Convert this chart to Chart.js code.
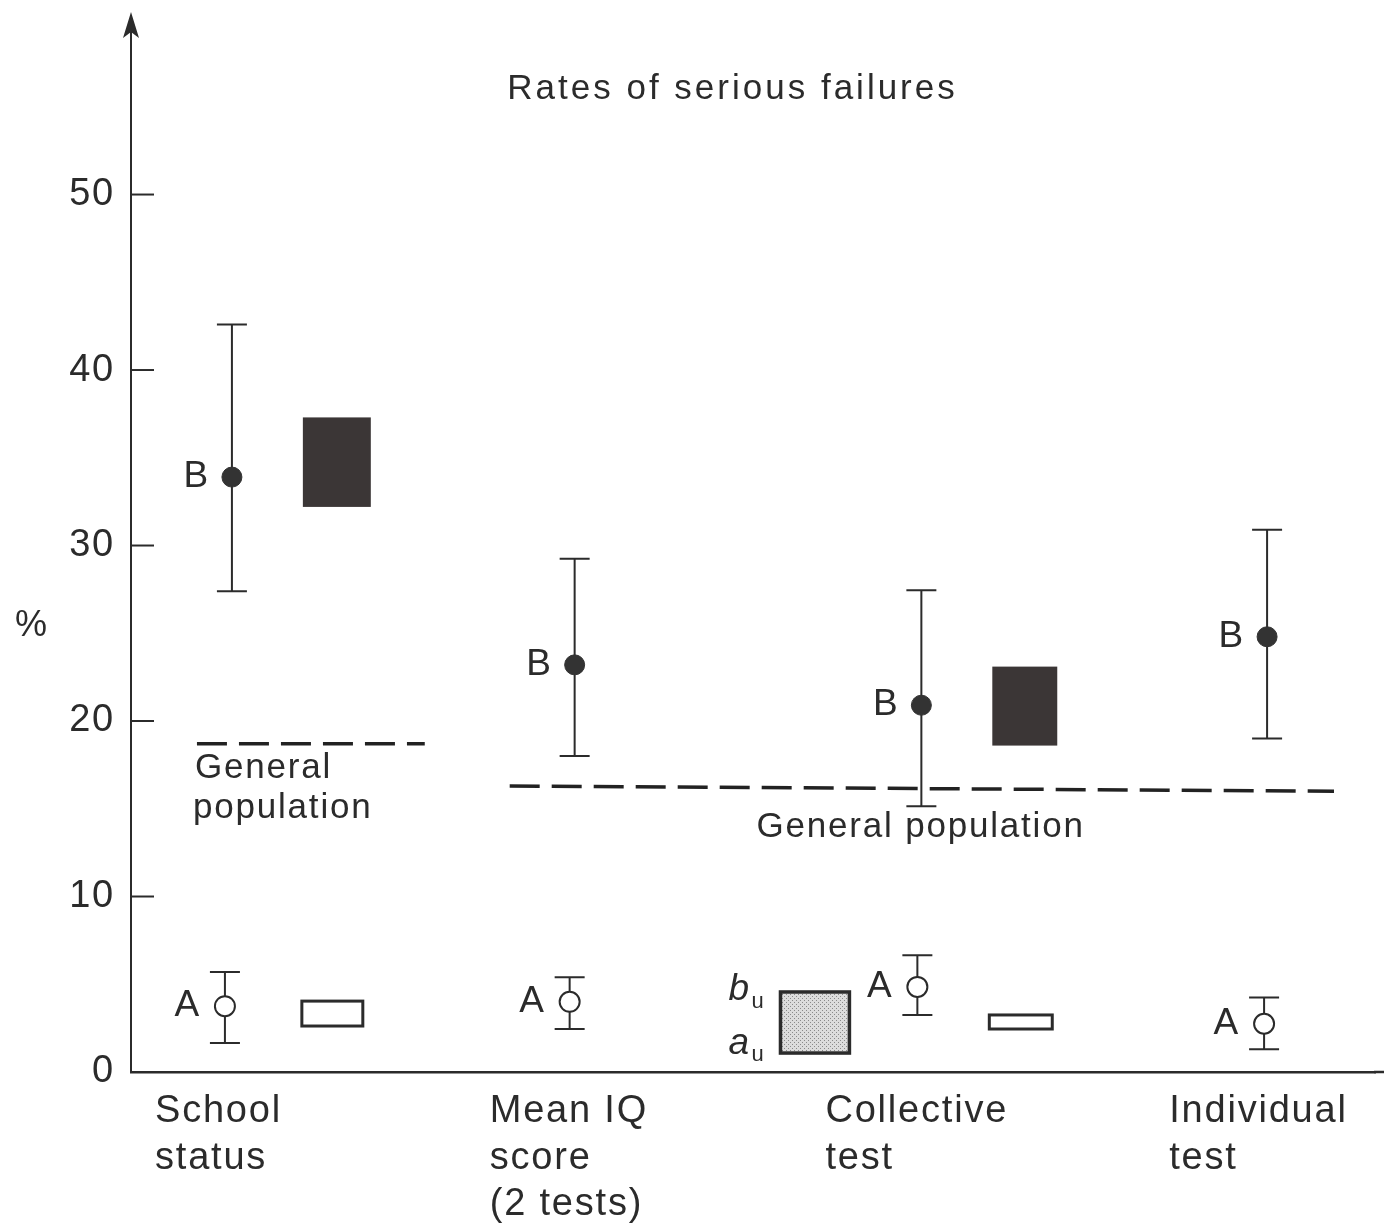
<!DOCTYPE html>
<html>
<head>
<meta charset="utf-8">
<script src="https://cdn.jsdelivr.net/npm/chart.js@4/dist/chart.umd.min.js"></script>
<style>
  body { margin: 0; background: #fff; }
  #wrap { width: 1387px; height: 1223px; }
</style>
</head>
<body>
<div id="wrap"><canvas id="failChart" width="1387" height="1223"></canvas></div>
<script>
// x is a plain position scale (0 = y axis), groups left to right
var categories = [['School', 'status'], ['Mean IQ', 'score', '(2 tests)'], ['Collective', 'test'], ['Individual', 'test']];
var categoryX = [0.24, 3.59, 6.95, 10.39];

// group B (filled dots) with confidence bars
var bX = [1.01, 4.44, 7.91, 11.37];
var bRate = [33.9, 23.2, 20.9, 24.8];
var bLow = [27.4, 18.0, 15.15, 19.0];
var bHigh = [42.6, 29.25, 27.45, 30.9];

// group A (open dots) with confidence bars
var aX = [0.94, 4.39, 7.87, 11.34];
var aRate = [3.75, 4.0, 4.85, 2.75];
var aLow = [1.65, 2.45, 3.25, 1.3];
var aHigh = [5.7, 5.4, 6.65, 4.25];

// boxes: [xFrom, xTo, yLow, yHigh]
var filledBoxes = [[1.72, 2.40, 32.2, 37.3], [8.62, 9.27, 18.6, 23.1]];
var openBoxes = [[1.71, 2.32, 2.62, 4.04], [8.59, 9.22, 2.45, 3.25]];
var stippledBox = [6.50, 7.19, 1.08, 4.56];

// general population levels
var genPop1 = [{x: 0.66, y: 18.7}, {x: 2.94, y: 18.7}];
var genPop2 = [{x: 3.79, y: 16.3}, {x: 12.04, y: 16.0}];

var yTicks = [0, 10, 20, 30, 40, 50];
var ink = '#2b2b2b';
var font = '"Liberation Sans", Arial, sans-serif';

function toPts(xs, ys) {
    return xs.map(function (x, i) { return {x: x, y: ys[i]}; });
}

var stipple = (function () {
    var c = document.createElement('canvas');
    c.width = 4; c.height = 4;
    var g = c.getContext('2d');
    g.fillStyle = '#dcdcdc';
    g.fillRect(0, 0, 4, 4);
    g.fillStyle = '#8a8a8a';
    g.fillRect(0, 0, 1, 1);
    g.fillRect(2, 2, 1, 1);
    return g.createPattern(c, 'repeat');
})();

var drawings = {
    id: 'drawings',
    beforeDraw: function (chart) {
        chart.ctx.letterSpacing = '1.8px';
    },
    beforeDatasetsDraw: function (chart) {
        var ctx = chart.ctx, xs = chart.scales.x, ys = chart.scales.y;
        ctx.save();
        // boxes
        filledBoxes.forEach(function (b) {
            var x1 = xs.getPixelForValue(b[0]), x2 = xs.getPixelForValue(b[1]);
            var y1 = ys.getPixelForValue(b[3]), y2 = ys.getPixelForValue(b[2]);
            ctx.fillStyle = '#3b3636';
            ctx.fillRect(x1, y1, x2 - x1, y2 - y1);
        });
        ctx.lineWidth = 3;
        ctx.strokeStyle = ink;
        openBoxes.forEach(function (b) {
            var x1 = xs.getPixelForValue(b[0]), x2 = xs.getPixelForValue(b[1]);
            var y1 = ys.getPixelForValue(b[3]), y2 = ys.getPixelForValue(b[2]);
            ctx.fillStyle = '#fff';
            ctx.fillRect(x1, y1, x2 - x1, y2 - y1);
            ctx.strokeRect(x1, y1, x2 - x1, y2 - y1);
        });
        var sx1 = xs.getPixelForValue(stippledBox[0]), sx2 = xs.getPixelForValue(stippledBox[1]);
        var sy1 = ys.getPixelForValue(stippledBox[3]), sy2 = ys.getPixelForValue(stippledBox[2]);
        ctx.fillStyle = stipple;
        ctx.fillRect(sx1, sy1, sx2 - sx1, sy2 - sy1);
        ctx.lineWidth = 3.5;
        ctx.strokeRect(sx1, sy1, sx2 - sx1, sy2 - sy1);

        // error bars
        ctx.lineWidth = 2;
        function bars(xArr, lo, hi) {
            xArr.forEach(function (x, i) {
                var px = xs.getPixelForValue(x);
                var pl = ys.getPixelForValue(lo[i]), ph = ys.getPixelForValue(hi[i]);
                ctx.beginPath();
                ctx.moveTo(px, pl); ctx.lineTo(px, ph);
                ctx.moveTo(px - 15, pl); ctx.lineTo(px + 15, pl);
                ctx.moveTo(px - 15, ph); ctx.lineTo(px + 15, ph);
                ctx.stroke();
            });
        }
        bars(bX, bLow, bHigh);
        bars(aX, aLow, aHigh);

        // y axis ticks pointing inwards, axis extended up to an arrow head
        var ax = chart.chartArea.left;
        yTicks.forEach(function (t) {
            if (t === 0) return;
            var py = ys.getPixelForValue(t);
            ctx.beginPath(); ctx.moveTo(ax, py); ctx.lineTo(ax + 23, py); ctx.stroke();
        });
        var tip = ys.getPixelForValue(60.4);
        ctx.beginPath(); ctx.moveTo(ax, chart.chartArea.top + 1); ctx.lineTo(ax, tip + 12); ctx.stroke();
        ctx.fillStyle = ink;
        ctx.beginPath();
        ctx.moveTo(ax, tip);
        ctx.lineTo(ax - 8, tip + 26);
        ctx.lineTo(ax, tip + 20);
        ctx.lineTo(ax + 8, tip + 26);
        ctx.closePath();
        ctx.fill();
        // x axis runs on to the page edge
        var by = chart.chartArea.bottom;
        ctx.lineWidth = 2.5;
        ctx.beginPath(); ctx.moveTo(chart.chartArea.right - 1, by); ctx.lineTo(xs.getPixelForValue(12.54), by); ctx.stroke();
        ctx.restore();
    },
    afterDatasetsDraw: function (chart) {
        var ctx = chart.ctx, xs = chart.scales.x, ys = chart.scales.y;
        ctx.save();
        ctx.fillStyle = ink;
        ctx.textBaseline = 'middle';
        ctx.textAlign = 'center';
        ctx.letterSpacing = '3px';
        ctx.font = '35px ' + font;
        ctx.fillText('Rates of serious failures', xs.getPixelForValue(6.02), ys.getPixelForValue(56.0));
        ctx.letterSpacing = '1.8px';

        ctx.font = '37px ' + font;
        ctx.textAlign = 'right';
        bX.forEach(function (x, i) {
            ctx.fillText('B', xs.getPixelForValue(x) - 22, ys.getPixelForValue(bRate[i]));
        });
        aX.forEach(function (x, i) {
            ctx.fillText('A', xs.getPixelForValue(x) - 24, ys.getPixelForValue(aRate[i]));
        });

        ctx.font = '35px ' + font;
        ctx.textAlign = 'left';
        ctx.fillText('General', xs.getPixelForValue(0.64), ys.getPixelForValue(17.3));
        ctx.fillText('population', xs.getPixelForValue(0.62), ys.getPixelForValue(15.0));
        ctx.fillText('General population', xs.getPixelForValue(6.26), ys.getPixelForValue(13.95));

        // b_u / a_u beside the stippled box
        var lx = xs.getPixelForValue(stippledBox[0]) - 52;
        ctx.font = 'italic 37px ' + font;
        ctx.fillText('b', lx, ys.getPixelForValue(4.7));
        ctx.fillText('a', lx, ys.getPixelForValue(1.6));
        ctx.font = '22px ' + font;
        ctx.fillText('u', lx + 23, ys.getPixelForValue(4.0));
        ctx.fillText('u', lx + 23, ys.getPixelForValue(0.95));

        // category names under the x axis
        ctx.font = '38px ' + font;
        ctx.textBaseline = 'middle';
        categories.forEach(function (lines, i) {
            var px = xs.getPixelForValue(categoryX[i]);
            lines.forEach(function (s, j) {
                ctx.fillText(s, px, chart.chartArea.bottom + 40 + j * 46.5);
            });
        });

        ctx.font = '36px ' + font;
        ctx.textAlign = 'center';
        ctx.fillText('%', 32, ys.getPixelForValue(25.4));
        ctx.restore();
    }
};

new Chart(document.getElementById('failChart').getContext('2d'), {
    type: 'scatter',
    data: {
        datasets: [
            {
                label: 'General population 1',
                type: 'line',
                data: genPop1,
                borderColor: '#222',
                borderWidth: 3.5,
                borderDash: [30, 12],
                pointRadius: 0,
                fill: false
            },
            {
                label: 'General population 2',
                type: 'line',
                data: genPop2,
                borderColor: '#222',
                borderWidth: 3.5,
                borderDash: [30, 12],
                pointRadius: 0,
                fill: false
            },
            {
                label: 'B',
                data: toPts(bX, bRate),
                pointRadius: 10,
                backgroundColor: '#333',
                borderColor: '#333',
                borderWidth: 1
            },
            {
                label: 'A',
                data: toPts(aX, aRate),
                pointRadius: 10,
                backgroundColor: '#fff',
                borderColor: ink,
                borderWidth: 2
            }
        ]
    },
    options: {
        responsive: false,
        animation: false,
        layout: { padding: { top: 0, right: 0, bottom: 0, left: 0 } },
        plugins: { legend: { display: false }, tooltip: { enabled: false } },
        scales: {
            x: {
                type: 'linear',
                min: 0,
                max: 12.45,
                grid: { display: false },
                border: { color: ink, width: 2.5 },
                afterFit: function (scale) { scale.height = 151; },
                ticks: { display: false }
            },
            y: {
                type: 'linear',
                min: 0,
                max: 59.33,
                grid: { display: false },
                border: { color: ink, width: 2 },
                afterBuildTicks: function (scale) {
                    scale.ticks = yTicks.map(function (v) { return {value: v}; });
                },
                afterFit: function (scale) { scale.width = 131; },
                ticks: {
                    padding: 8,
                    color: ink,
                    font: { family: font, size: 38 }
                }
            }
        }
    },
    plugins: [drawings]
});
</script>
</body>
</html>
